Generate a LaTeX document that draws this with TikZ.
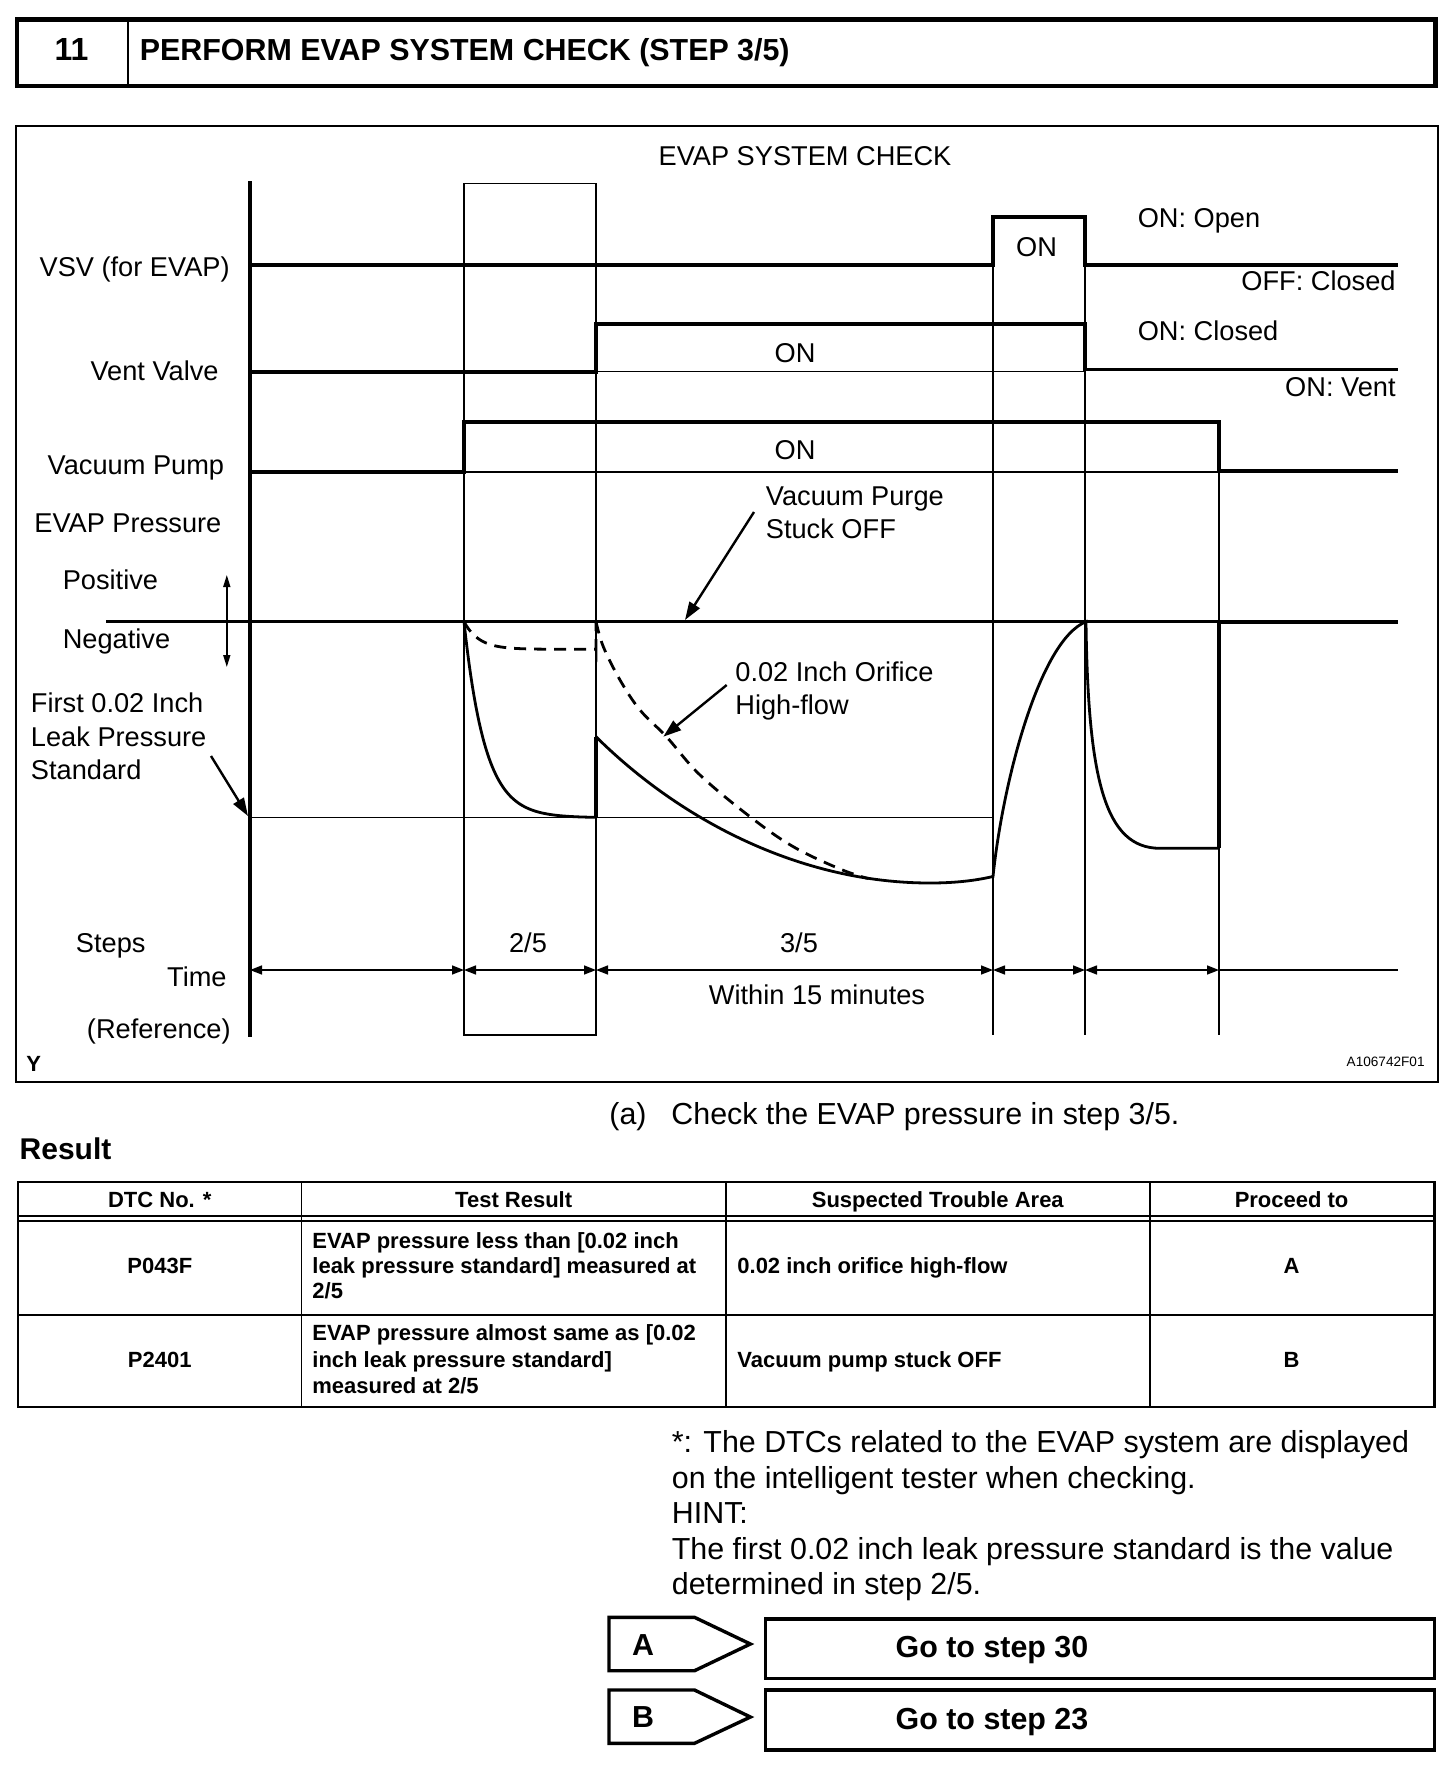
\documentclass[tikz,border=0pt]{standalone}
\usepackage{fontspec}
\setmainfont{Liberation Sans}
\usetikzlibrary{arrows.meta}
\begin{document}
\begin{tikzpicture}[x=0.5pt,y=-0.5pt,
  thinln/.style={line width=0.75pt},
  sig/.style={line width=1.9pt},
  crv/.style={line width=1.4pt},
  dsh/.style={line width=1.4pt,dash pattern=on 6pt off 4pt},
  lab/.style={font=\fontsize{13.6pt}{16pt}\selectfont,inner sep=0pt,text height=9.7pt,text depth=0pt},
  body/.style={font=\fontsize{15.2pt}{18pt}\selectfont,inner sep=0pt,text height=10.9pt,text depth=0pt},
  bodyb/.style={font=\fontsize{15.2pt}{18pt}\selectfont\bfseries,inner sep=0pt,text height=10.9pt,text depth=0pt},
  tbl/.style={font=\fontsize{11pt}{13pt}\selectfont\bfseries,inner sep=0pt,text height=7.9pt,text depth=0pt},
  dim/.style={thinln,{Triangle[length=6pt,width=4.5pt]}-{Triangle[length=6pt,width=4.5pt]}},
  callout/.style={line width=1.2pt,-{Triangle[length=9pt,width=6pt]}},
  tagbox/.style={line width=1.7pt}
]
\useasboundingbox (0,0) rectangle (1456,1778);
\fill[white] (0,0) rectangle (1456,1778);

% ---------- header ----------
\draw[line width=2.2pt] (17,19.3) rectangle (1435.6,86.2);
\draw[line width=1.1pt] (128,19.3) -- (128,86.2);
\node[bodyb,font=\fontsize{16pt}{18pt}\selectfont\bfseries] (num) at (71.5,50) {11};
\node[bodyb,anchor=west] (title) at (139.5,50) {PERFORM EVAP SYSTEM CHECK (STEP 3/5)};

% ---------- chart frame ----------
\draw[line width=1.2pt] (15.9,125.9) rectangle (1438,1082);
\node[lab] (charttitle) at (805,155.4) {EVAP SYSTEM CHECK};

% grid
\draw[line width=1.6pt] (250,181.4) -- (250,1036.7);
\draw[thinln] (464,183.3) rectangle (596,1035);
\draw[thinln] (993,217.3) -- (993,1035);
\draw[thinln] (1085,217.3) -- (1085,1035);
\draw[thinln] (1219,421.7) -- (1219,1035);

% signals
\draw[sig] (250,265) -- (993,265) -- (993,217.3) -- (1085,217.3) -- (1085,265) -- (1398,265);
\draw[thinln] (596,371.7) -- (1085,371.7);
\draw[sig] (250,371.7) -- (596,371.7) -- (596,324) -- (1085,324) -- (1085,369.5) -- (1398,369.5);
\draw[thinln] (464,472) -- (1219,472);
\draw[sig] (250,472) -- (464,472) -- (464,421.7) -- (1219,421.7) -- (1219,470.7) -- (1398,470.7);

% labels left
\node[lab,anchor=east] (vsv) at (230,266.5) {VSV (for EVAP)};
\node[lab,anchor=east] (vent) at (219,371) {Vent Valve};
\node[lab,anchor=east] (vac) at (224.5,465) {Vacuum Pump};
\node[lab,anchor=west] (evapp) at (34,523) {EVAP Pressure};
\node[lab,anchor=west] (pos) at (62.4,579.5) {Positive};
\node[lab,anchor=west] (neg) at (62.4,638.4) {Negative};
\node[lab,anchor=west] (first1) at (30.6,703) {First 0.02 Inch};
\node[lab,anchor=west] (first2) at (30.6,737) {Leak Pressure};
\node[lab,anchor=west] (first3) at (30.6,770) {Standard};
\node[lab] (steps) at (110.7,943) {Steps};
\node[lab,anchor=east] (time) at (227,977) {Time};
\node[lab,anchor=east] (refer) at (231,1029) {(Reference)};
\node[font=\fontsize{11pt}{13pt}\selectfont\bfseries,inner sep=0pt,anchor=west] (ymark) at (26,1064) {Y};
\node[font=\fontsize{6.8pt}{8pt}\selectfont,inner sep=0pt,anchor=east] (code) at (1425,1062) {A106742F01};

% labels right
\node[lab,anchor=west] (onopen) at (1137.4,217.7) {ON: Open};
\node[lab] (onvsv) at (1036.5,247) {ON};
\node[lab,anchor=east] (offclosed) at (1396,281.2) {OFF: Closed};
\node[lab,anchor=west] (onclosed) at (1137.4,331) {ON: Closed};
\node[lab] (onvent) at (795,352.7) {ON};
\node[lab,anchor=east] (onventlbl) at (1396,386.7) {ON: Vent};
\node[lab] (onvac) at (795,450) {ON};

% pressure
\draw[crv] (106,621.7) -- (1219,621.7);
\draw[dsh] (596,621.7) -- (993,621.7);
\draw[thinln] (250,817.7) -- (993,817.7);
\draw[crv] plot[domain=0:132,samples=80,variable=\t] ({464+\t},{621.7+196*(1-exp(-\t/21))}) -- (596,817.7);
\draw[sig] (596,817.7) -- (596,736.7);
\draw[dsh] plot[domain=0:132,samples=60,variable=\t] ({464+\t},{621.7+27.6*(1-exp(-\t/15))}) -- (596,649.3) -- (596,621.7);
\draw[crv] (596,736.7) .. controls (680,820) and (800,883) .. (930,883)
  .. controls (960,883) and (980,879.5) .. (993,876.5)
  .. controls (1003,780) and (1040,640) .. (1086,621.7)
  .. controls (1088,780) and (1105,848.3) .. (1160,848.3) -- (1219,848.3);
\draw[sig] (1219,848.3) -- (1219,621.7) -- (1398,621.7);
\draw[dsh] plot[smooth,tension=0.6] coordinates {(596,621.7) (603.3,646.7) (620,680) (640,710) (666.7,737) (700,775) (750,816.7) (793.3,846.7) (840,869) (868,878.5)};

\node[lab,anchor=west] (purge1) at (765.5,495.6) {Vacuum Purge};
\node[lab,anchor=west] (purge2) at (765.5,528.4) {Stuck OFF};
\node[lab,anchor=west] (orif1) at (735,671.5) {0.02 Inch Orifice};
\node[lab,anchor=west] (orif2) at (735,704.5) {High-flow};

\coordinate (purgeS) at (754,512);
\coordinate (purgeT) at (685,620);
\coordinate (orifS) at (726.7,685);
\coordinate (orifT) at (663.3,736.7);
\coordinate (leakS) at (211,756);
\coordinate (leakT) at (248,816);
\draw[callout] (purgeS) -- (purgeT);
\draw[callout] (orifS) -- (orifT);
\draw[callout] (leakS) -- (leakT);

\coordinate (pnTop) at (226.8,575);
\coordinate (pnBot) at (226.8,667);
\draw[thinln,{Triangle[length=6pt,width=3.5pt]}-{Triangle[length=6pt,width=3.5pt]}] (pnTop) -- (pnBot);

% time axis
\coordinate (t0) at (250,970);
\coordinate (t1) at (464,970);
\coordinate (t2) at (596,970);
\coordinate (t3) at (993,970);
\coordinate (t4) at (1085,970);
\coordinate (t5) at (1219,970);
\coordinate (t6) at (1398,970);
\draw[dim] (t0) -- (t1);
\draw[dim] (t1) -- (t2);
\draw[dim] (t2) -- (t3);
\draw[dim] (t3) -- (t4);
\draw[dim] (t4) -- (t5);
\draw[thinln] (t5) -- (t6);
\node[lab] (s25) at (528,943) {2/5};
\node[lab] (s35) at (799,943) {3/5};
\node[lab] (within) at (817,994.5) {Within 15 minutes};

% ---------- text below ----------
\node[body,anchor=west] (pa) at (609,1113.6) {(a)};
\node[body,anchor=west] (check) at (671,1113.6) {Check the EVAP pressure in step 3/5.};
\node[bodyb,font=\fontsize{15pt}{18pt}\selectfont\bfseries,anchor=west] (result) at (19.3,1148.7) {Result};

% table
\draw[line width=1.1pt] (18,1181.7) rectangle (1434.5,1407.3);
\draw[line width=1pt] (18,1216.3) -- (1434.5,1216.3);
\draw[line width=1pt] (18,1220.9) -- (1434.5,1220.9);
\draw[line width=0.9pt] (18,1315) -- (1434.5,1315);
\draw[line width=0.9pt] (301.5,1181.7) -- (301.5,1407.3);
\draw[line width=0.9pt] (725.8,1181.7) -- (725.8,1407.3);
\draw[line width=0.9pt] (1150,1181.7) -- (1150,1407.3);
\node[tbl] (h1) at (159.8,1200) {DTC No. *};
\node[tbl] (h2) at (513.7,1200) {Test Result};
\node[tbl] (h3) at (937.8,1200) {Suspected Trouble Area};
\node[tbl] (h4) at (1291.6,1200) {Proceed to};
\node[tbl] (p1) at (159.8,1266) {P043F};
\node[tbl,anchor=west] (r1a) at (312,1241) {EVAP pressure less than [0.02 inch};
\node[tbl,anchor=west] (r1b) at (312,1266) {leak pressure standard] measured at};
\node[tbl,anchor=west] (r1c) at (312,1291) {2/5};
\node[tbl,anchor=west] (a1) at (737,1266) {0.02 inch orifice high-flow};
\node[tbl] (g1) at (1291.6,1266) {A};
\node[tbl] (p2) at (159.8,1359.5) {P2401};
\node[tbl,anchor=west] (r2a) at (312,1333) {EVAP pressure almost same as [0.02};
\node[tbl,anchor=west] (r2b) at (312,1359.5) {inch leak pressure standard]};
\node[tbl,anchor=west] (r2c) at (312,1386) {measured at 2/5};
\node[tbl,anchor=west] (a2) at (737,1359.5) {Vacuum pump stuck OFF};
\node[tbl] (g2) at (1291.6,1359.5) {B};

% notes
\node[body,anchor=west] (n1) at (671.5,1441.5) {*: The DTCs related to the EVAP system are displayed};
\node[body,anchor=west] (n2) at (671.5,1478) {on the intelligent tester when checking.};
\node[body,anchor=west] (n3) at (671.5,1513) {HINT:};
\node[body,anchor=west] (n4) at (671.5,1548.5) {The first 0.02 inch leak pressure standard is the value};
\node[body,anchor=west] (n5) at (671.5,1584) {determined in step 2/5.};

% tags
\draw[tagbox] (609,1617.3) -- (694.5,1617.3) -- (750.4,1644) -- (694.5,1670.7) -- (609,1670.7) -- cycle;
\node[bodyb] (tagA) at (643,1645) {A};
\draw[tagbox] (765.5,1619) rectangle (1434.7,1678.3);
\node[bodyb] (goA) at (992,1647) {Go to step 30};
\draw[tagbox] (609,1690) -- (694.5,1690) -- (750.4,1717) -- (694.5,1743.3) -- (609,1743.3) -- cycle;
\node[bodyb] (tagB) at (643,1717) {B};
\draw[tagbox] (765.5,1690) rectangle (1434.7,1750);
\node[bodyb] (goB) at (992,1718.5) {Go to step 23};
\end{tikzpicture}
\end{document}
